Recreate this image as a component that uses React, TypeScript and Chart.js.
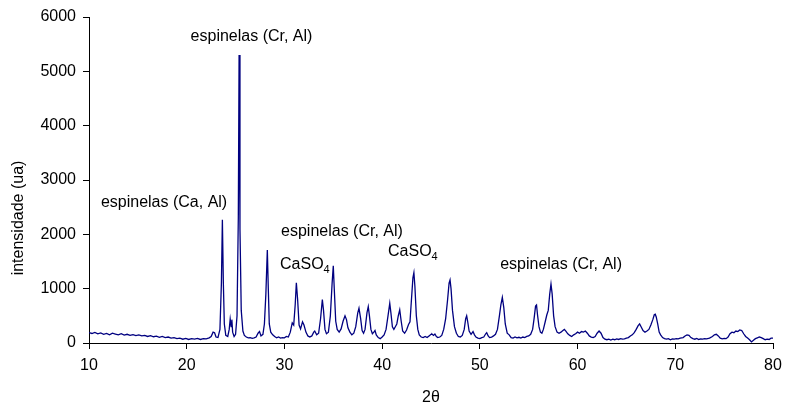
import React, { useEffect, useRef } from "react";
import { Chart, registerables } from "chart.js";

Chart.register(...registerables);

// 2θ positions (degrees)
const twoTheta: number[] = [
  10.0, 10.3, 10.6, 10.9, 11.2, 11.5, 11.8, 12.1, 12.4, 12.7, 13.0, 13.3, 13.6, 13.9, 14.2, 14.5, 14.8, 15.1, 15.4, 15.7,
  16.0, 16.3, 16.6, 16.9, 17.2, 17.5, 17.8, 18.1, 18.4, 18.7, 19.0, 19.3, 19.6, 19.9, 20.2, 20.5, 20.8, 21.1, 21.4, 21.7,
  22.0, 22.3, 22.5, 22.7, 22.85, 23.0, 23.2, 23.4, 23.55, 23.65, 23.75, 23.85, 24.0, 24.2, 24.35, 24.45, 24.55, 24.62, 24.7, 24.85,
  25.0, 25.15, 25.28, 25.36, 25.45, 25.58, 25.75, 25.9, 26.1, 26.3, 26.5, 26.7, 26.9, 27.1, 27.3, 27.45, 27.6, 27.8, 27.95, 28.1,
  28.25, 28.35, 28.45, 28.6, 28.8, 29.0, 29.2, 29.4, 29.6, 29.8, 30.0, 30.2, 30.4, 30.6, 30.8, 30.95, 31.1, 31.22, 31.35, 31.5,
  31.65, 31.85, 32.0, 32.2, 32.4, 32.6, 32.8, 33.0, 33.1, 33.3, 33.5, 33.7, 33.88, 34.0, 34.15, 34.3, 34.5, 34.7, 34.88, 35.0,
  35.1, 35.25, 35.4, 35.6, 35.8, 36.0, 36.2, 36.35, 36.5, 36.7, 36.9, 37.1, 37.3, 37.5, 37.63, 37.8, 37.95, 38.1, 38.25, 38.45,
  38.58, 38.7, 38.85, 39.0, 39.15, 39.27, 39.4, 39.6, 39.8, 40.0, 40.2, 40.4, 40.6, 40.78, 40.9, 41.05, 41.2, 41.35, 41.5, 41.65,
  41.8, 41.95, 42.1, 42.3, 42.5, 42.7, 42.85, 43.0, 43.15, 43.25, 43.35, 43.5, 43.65, 43.8, 44.0, 44.2, 44.4, 44.6, 44.8, 45.0,
  45.1, 45.25, 45.4, 45.55, 45.7, 45.9, 46.1, 46.3, 46.5, 46.7, 46.85, 46.95, 47.05, 47.2, 47.4, 47.6, 47.8, 48.0, 48.2, 48.4,
  48.55, 48.65, 48.75, 48.9, 49.1, 49.3, 49.45, 49.6, 49.8, 50.0, 50.2, 50.4, 50.6, 50.7, 50.85, 51.0, 51.2, 51.4, 51.6, 51.8,
  52.0, 52.15, 52.3, 52.45, 52.6, 52.8, 53.0, 53.2, 53.4, 53.6, 53.8, 54.0, 54.2, 54.4, 54.6, 54.8, 55.0, 55.2, 55.4, 55.55,
  55.7, 55.8, 55.9, 56.05, 56.2, 56.35, 56.5, 56.7, 56.85, 57.0, 57.15, 57.28, 57.4, 57.55, 57.7, 57.9, 58.1, 58.3, 58.5, 58.65,
  58.8, 59.0, 59.2, 59.4, 59.6, 59.8, 60.0, 60.2, 60.4, 60.6, 60.8, 61.0, 61.2, 61.4, 61.6, 61.8, 62.0, 62.2, 62.4, 62.6,
  62.8, 63.0, 63.2, 63.4, 63.6, 63.8, 64.0, 64.2, 64.4, 64.6, 64.8, 65.0, 65.2, 65.4, 65.6, 65.8, 66.0, 66.2, 66.35, 66.5,
  66.7, 66.9, 67.1, 67.3, 67.5, 67.7, 67.85, 67.95, 68.05, 68.2, 68.35, 68.5, 68.7, 68.9, 69.1, 69.3, 69.5, 69.7, 69.9, 70.1,
  70.3, 70.5, 70.8, 71.0, 71.2, 71.4, 71.6, 71.8, 72.0, 72.2, 72.4, 72.6, 72.8, 73.0, 73.2, 73.5, 73.8, 74.0, 74.2, 74.4,
  74.6, 74.8, 75.0, 75.2, 75.4, 75.6, 75.8, 76.0, 76.2, 76.4, 76.6, 76.8, 77.0, 77.2, 77.4, 77.6, 77.8, 78.0, 78.2, 78.4,
  78.6, 78.8, 79.0, 79.2, 79.4, 79.6, 79.8, 80.0,
];

// intensity (ua)
const intensity: number[] = [
  190, 175, 195, 170, 185, 160, 175, 150, 180, 165, 150, 170, 145, 160, 140, 155, 135, 150, 130, 140,
  120, 135, 115, 125, 105, 120, 100, 110, 90, 100, 80, 90, 70, 85, 65, 80, 70, 85, 65, 80,
  75, 95, 120, 200, 190, 110, 100, 250, 1100, 2270, 1100, 350, 140, 120, 250, 440, 300, 430, 200, 120,
  160, 500, 2300, 5300, 2100, 600, 220, 140, 110, 95, 100, 85, 95, 110, 180, 210, 130, 160, 350, 900,
  1710, 1000, 350, 200, 150, 120, 95, 110, 90, 100, 95, 120, 110, 200, 370, 330, 700, 1110, 800, 330,
  260, 390, 330, 200, 130, 110, 130, 200, 220, 150, 180, 450, 800, 600, 250, 170, 200, 500, 1100, 1420,
  1000, 400, 250, 200, 260, 400, 500, 430, 280, 200, 150, 180, 300, 550, 640, 450, 230, 180, 250, 560,
  670, 500, 250, 170, 200, 230, 150, 100, 80, 110, 150, 250, 500, 730, 550, 300, 250, 300, 350, 500,
  610, 400, 220, 180, 240, 340, 390, 800, 1200, 1295, 1050, 500, 250, 150, 110, 100, 120, 100, 130, 160,
  165, 140, 165, 120, 100, 110, 140, 250, 450, 800, 1100, 1160, 1000, 600, 300, 180, 120, 110, 140, 250,
  450, 500, 400, 220, 160, 210, 150, 110, 90, 80, 100, 110, 170, 190, 130, 100, 110, 130, 160, 250,
  500, 700, 840, 650, 350, 180, 150, 100, 90, 110, 95, 105, 90, 110, 100, 120, 130, 160, 250, 450,
  680, 700, 520, 300, 200, 180, 250, 400, 515, 600, 900, 1085, 900, 500, 300, 200, 180, 200, 230, 250,
  220, 170, 140, 120, 150, 170, 200, 180, 210, 200, 220, 180, 130, 110, 100, 120, 180, 220, 180, 100,
  70, 60, 70, 55, 70, 60, 75, 65, 80, 70, 75, 90, 100, 130, 150, 190, 250, 320, 350, 300,
  230, 200, 220, 250, 330, 430, 520, 530, 480, 350, 200, 150, 100, 80, 70, 80, 60, 75, 70, 80,
  75, 90, 100, 130, 150, 140, 100, 80, 70, 85, 65, 75, 70, 80, 75, 90, 120, 150, 160, 130,
  90, 75, 85, 80, 110, 170, 200, 190, 220, 210, 240, 230, 170, 120, 90, 60, 20, 50, 80, 95,
  110, 100, 80, 60, 70, 65, 90, 90,
];

const xTicks: number[] = [10, 20, 30, 40, 50, 60, 70, 80];
const yTicks: number[] = [0, 1000, 2000, 3000, 4000, 5000, 6000];

// peak annotations: text, 2θ anchor, intensity anchor
const labelTexts: string[] = [
  "espinelas (Cr, Al)",
  "espinelas (Ca, Al)",
  "espinelas (Cr, Al)",
  "CaSO|4",
  "CaSO|4",
  "espinelas (Cr, Al)",
];
const labelX: number[] = [26.63, 17.68, 35.89, 29.55, 40.6, 58.31];
const labelY: number[] = [5632, 2577, 2043, 1436, 1675, 1436];
const labelAlign: string[] = ["center", "center", "center", "left", "left", "center"];

const xTitle = "2θ";
const yTitle = "intensidade (ua)";

const FONT = "'Liberation Sans', Arial, sans-serif";

const textPlugin = {
  id: "peakText",
  afterDraw(chart: any) {
    const ctx = chart.ctx as CanvasRenderingContext2D;
    const xs = chart.scales.x;
    const ys = chart.scales.y;
    ctx.save();
    ctx.fillStyle = "#000";
    ctx.textBaseline = "middle";
    for (let i = 0; i < labelTexts.length; i++) {
      const px = xs.getPixelForValue(labelX[i]);
      const py = ys.getPixelForValue(labelY[i]);
      const parts = labelTexts[i].split("|");
      ctx.font = `16px ${FONT}`;
      const mainW = ctx.measureText(parts[0]).width;
      let subW = 0;
      if (parts[1]) {
        ctx.font = `11px ${FONT}`;
        subW = ctx.measureText(parts[1]).width;
      }
      const total = mainW + subW;
      let left = px;
      if (labelAlign[i] === "center") left = px - total / 2;
      ctx.textAlign = "left";
      ctx.font = `16px ${FONT}`;
      ctx.fillText(parts[0], left, py);
      if (parts[1]) {
        ctx.font = `11px ${FONT}`;
        ctx.fillText(parts[1], left + mainW, py + 5);
      }
    }
    // axis titles
    const ca = chart.chartArea;
    ctx.font = `16px ${FONT}`;
    ctx.textAlign = "center";
    ctx.fillText(xTitle, (ca.left + ca.right) / 2, 398);
    ctx.translate(19, 218);
    ctx.rotate(-Math.PI / 2);
    ctx.fillText(yTitle, 0, 0);
    ctx.restore();
  },
};

export default function App() {
  const ref = useRef<HTMLCanvasElement | null>(null);
  useEffect(() => {
    if (!ref.current) return;
    const points = twoTheta.map((t, i) => ({ x: t, y: intensity[i] }));
    const chart = new Chart(ref.current, {
      type: "line",
      data: {
        datasets: [
          {
            data: points,
            borderColor: "#000080",
            borderWidth: 1.3,
            pointRadius: 0,
            tension: 0,
            fill: false,
          },
        ],
      },
      options: {
        animation: false,
        responsive: false,
        maintainAspectRatio: false,
        layout: { padding: { left: 0, right: 14, top: 17, bottom: 0 } },
        plugins: { legend: { display: false }, tooltip: { enabled: false } },
        scales: {
          x: {
            type: "linear",
            min: 10,
            max: 80,
            afterBuildTicks: (s: any) => {
              s.ticks = xTicks.map((v) => ({ value: v }));
            },
            afterFit: (s: any) => {
              s.height = 69;
              s.paddingLeft = 0;
              s.paddingRight = 0;
            },
            grid: { drawOnChartArea: false, drawTicks: true, tickLength: 6, color: "#000" },
            border: { display: true, color: "#000", width: 1 },
            ticks: {
              color: "#000",
              font: { family: FONT, size: 16 },
              padding: 7,
              maxRotation: 0,
              callback: (v: any) => String(v),
            },
          },
          y: {
            type: "linear",
            min: 0,
            max: 6000,
            afterBuildTicks: (s: any) => {
              s.ticks = yTicks.map((v) => ({ value: v }));
            },
            afterFit: (s: any) => {
              s.width = 89;
              s.paddingTop = 0;
              s.paddingBottom = 0;
            },
            grid: { drawOnChartArea: false, drawTicks: true, tickLength: 6, color: "#000" },
            border: { display: true, color: "#000", width: 1 },
            ticks: {
              color: "#000",
              font: { family: FONT, size: 16 },
              padding: 7,
              callback: (v: any) => String(v),
            },
          },
        },
      },
      plugins: [textPlugin],
    });
    return () => chart.destroy();
  }, []);
  return (
    <div style={{ position: "fixed", left: 0, top: 0, width: 787, height: 412, background: "#fff" }}>
      <canvas ref={ref} width={787} height={412} style={{ display: "block" }} />
    </div>
  );
}
